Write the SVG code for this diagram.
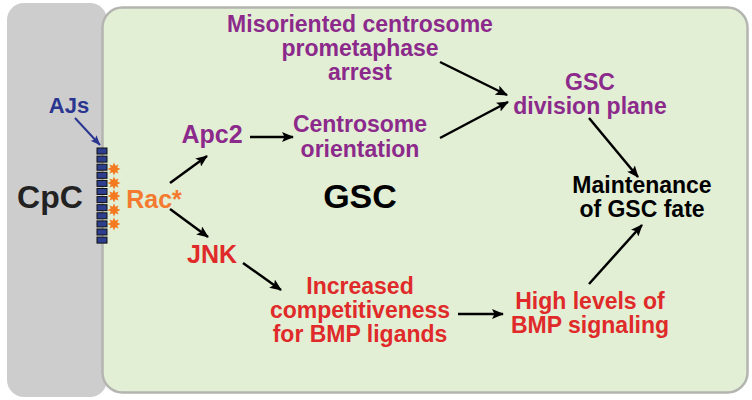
<svg xmlns="http://www.w3.org/2000/svg" width="752" height="400" viewBox="0 0 752 400">
<defs>
<marker id="ah" viewBox="0 0 12 10" refX="11" refY="5" markerWidth="12" markerHeight="10" markerUnits="userSpaceOnUse" orient="auto">
<path d="M0,0 L12,5 L0,10 L2.5,5 z" fill="#000"/>
</marker>
<marker id="ahb" viewBox="0 0 10 8" refX="9.5" refY="4" markerWidth="10" markerHeight="8" markerUnits="userSpaceOnUse" orient="auto">
<path d="M0,0 L10,4 L0,8 L2,4 z" fill="#2a3590"/>
</marker>
<path id="star" d="M0,-6.5 L1.4,-3.2 L4.6,-4.6 L3.2,-1.4 L6.5,0 L3.2,1.4 L4.6,4.6 L1.4,3.2 L0,6.5 L-1.4,3.2 L-4.6,4.6 L-3.2,1.4 L-6.5,0 L-3.2,-1.4 L-4.6,-4.6 L-1.4,-3.2 z" fill="#f47a20"/>
</defs>
<style>
text{font-family:"Liberation Sans",Arial,sans-serif;font-weight:bold;text-anchor:middle}
.p{fill:#8c2a8c;font-size:23px}
.r{fill:#e02a2a;font-size:23px}
.k{fill:#000;font-size:23px}
.c{stroke:#000;stroke-width:2.5;fill:none;marker-end:url(#ah)}
.aj{fill:#2d3e8f;stroke:#111;stroke-width:1}
</style>
<rect width="752" height="400" fill="#fff"/>
<g id="cpc">
<rect x="7" y="3" width="100" height="394" rx="17" fill="#cdcdcd"/>
<text x="50" y="208" style="font-size:32px;fill:#222">CpC</text>
</g>
<g id="gsc-cell">
<rect x="102.5" y="7.5" width="645" height="385" rx="20" fill="#e2efd4" stroke="#b4b4b0" stroke-width="2.5"/>
<text x="360" y="208" style="font-size:34px;fill:#000">GSC</text>
</g>
<g id="ajs">
<text x="69" y="113" style="font-size:22px;fill:#2a3590">AJs</text>
<rect class="aj" x="97" y="148" width="10" height="6"/>
<rect class="aj" x="97" y="156.1" width="10" height="6"/>
<rect class="aj" x="97" y="164.2" width="10" height="6"/>
<rect class="aj" x="97" y="172.3" width="10" height="6"/>
<rect class="aj" x="97" y="180.4" width="10" height="6"/>
<rect class="aj" x="97" y="188.5" width="10" height="6"/>
<rect class="aj" x="97" y="196.6" width="10" height="6"/>
<rect class="aj" x="97" y="204.7" width="10" height="6"/>
<rect class="aj" x="97" y="212.8" width="10" height="6"/>
<rect class="aj" x="97" y="220.9" width="10" height="6"/>
<rect class="aj" x="97" y="229" width="10" height="6"/>
<rect class="aj" x="97" y="237.1" width="10" height="6"/>
</g>
<g id="rac">
<use href="#star" x="114" y="169"/>
<use href="#star" x="114" y="183"/>
<use href="#star" x="114" y="196"/>
<use href="#star" x="114" y="210"/>
<use href="#star" x="114" y="224"/>
<text x="154" y="208" style="font-size:25px;fill:#f47a30">Rac*</text>
</g>
<g id="apc2"><text x="212" y="143" style="font-size:25px;fill:#8c2a8c">Apc2</text></g>
<g id="jnk"><text x="212" y="263" style="font-size:25px;fill:#e02a2a">JNK</text></g>
<g id="centrosome"><text class="p" x="360" y="132">Centrosome</text><text class="p" x="360" y="157">orientation</text></g>
<g id="misoriented"><text class="p" x="360" y="32">Misoriented centrosome</text><text class="p" x="360" y="56">prometaphase</text><text class="p" x="360" y="80">arrest</text></g>
<g id="division"><text class="p" x="590" y="90">GSC</text><text class="p" x="590" y="114">division plane</text></g>
<g id="maintenance"><text class="k" x="642" y="193">Maintenance</text><text class="k" x="642" y="217">of GSC fate</text></g>
<g id="competitiveness"><text class="r" x="360" y="294">Increased</text><text class="r" x="360" y="318">competitiveness</text><text class="r" x="360" y="342">for BMP ligands</text></g>
<g id="bmp"><text class="r" x="590" y="309">High levels of</text><text class="r" x="590" y="333">BMP signaling</text></g>
<g id="connectors">
<line x1="75" y1="118" x2="100" y2="145" stroke="#2a3590" stroke-width="2" marker-end="url(#ahb)"/>
<line class="c" x1="170" y1="183" x2="207" y2="156"/>
<line class="c" x1="170" y1="209" x2="208" y2="237"/>
<line class="c" x1="250" y1="137" x2="293" y2="137"/>
<line class="c" x1="440" y1="138" x2="508" y2="102"/>
<line class="c" x1="440" y1="62" x2="507" y2="95"/>
<line class="c" x1="589" y1="118" x2="638" y2="177"/>
<line class="c" x1="243" y1="263" x2="281" y2="290"/>
<line class="c" x1="458" y1="314" x2="503" y2="314"/>
<line class="c" x1="589" y1="284" x2="642" y2="225"/>
</g>
</svg>
